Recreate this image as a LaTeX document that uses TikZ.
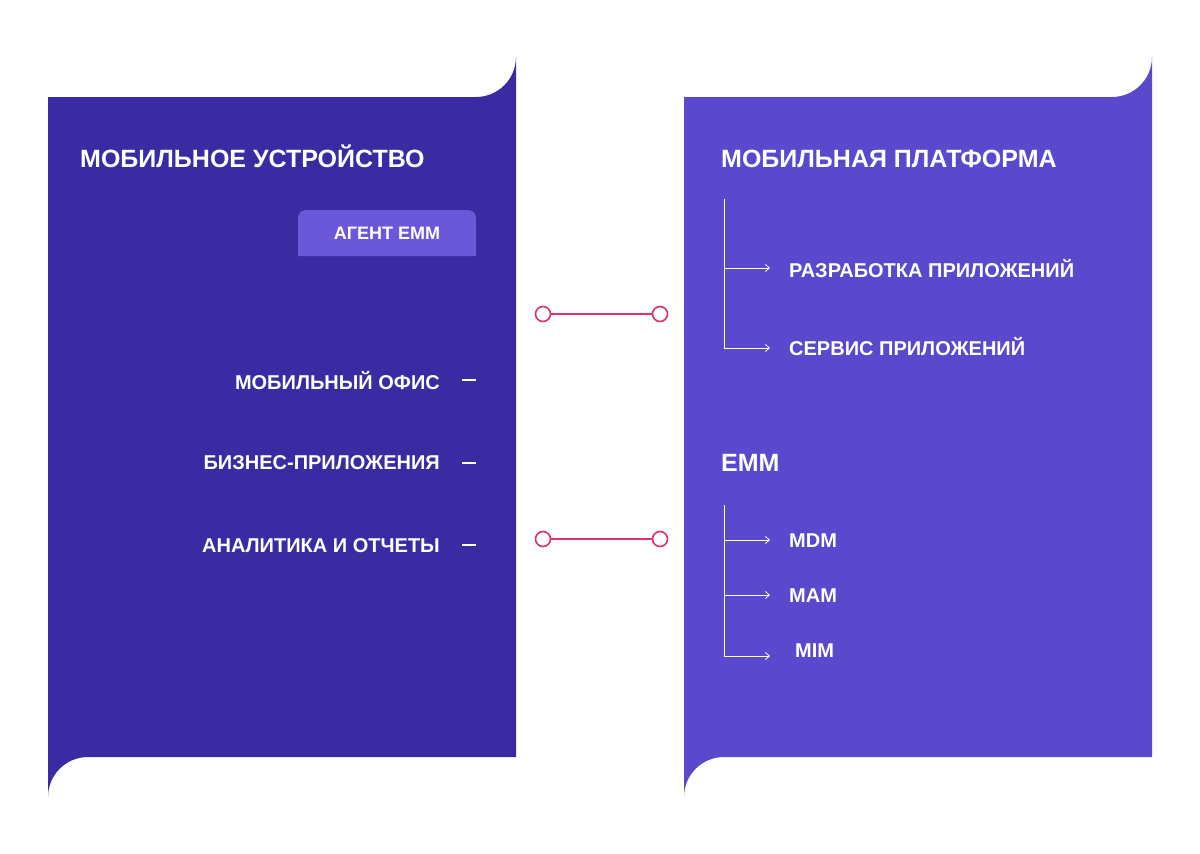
\documentclass[tikz,border=0pt]{standalone}
\usepackage{fontspec}
\setmainfont{Liberation Sans}
\usetikzlibrary{arrows.meta}
\definecolor{leftc}{HTML}{3A2BA3}
\definecolor{rightc}{HTML}{5B49CD}
\definecolor{agentc}{HTML}{6B58D9}
\definecolor{pinkc}{HTML}{E0306A}
\tikzset{
  title/.style={text=white,font=\fontsize{25}{30}\selectfont\bfseries,anchor=base west,inner sep=0},
  item/.style={text=white,font=\fontsize{20}{24}\selectfont\bfseries,inner sep=0},
  dot/.style={circle,draw=pinkc,line width=1.6pt,fill=white,minimum size=15pt,inner sep=0},
  link/.style={draw=pinkc,line width=1.4pt},
  tree/.style={draw=white,line width=0.8pt},
  arr/.style={tree,-{Straight Barb[length=4pt,width=7pt]}},
  dashmark/.style={draw=white,line width=2.5pt}
}
\begin{document}
\begin{tikzpicture}[x=1pt,y=-1pt]
\useasboundingbox (0,0) rectangle (1200,854);
\fill[white] (0,0) rectangle (1200,854);
% panels
\fill[leftc] (48,97) -- (476,97) arc[start angle=90,end angle=0,radius=40] -- (516,757) -- (88,757) arc[start angle=270,end angle=180,radius=40] -- cycle;
\fill[rightc] (684,97) -- (1112,97) arc[start angle=90,end angle=0,radius=40] -- (1152,757) -- (724,757) arc[start angle=270,end angle=180,radius=40] -- cycle;
% agent box
\fill[agentc, rounded corners=8pt] (298,256) -- (298,210) -- (476,210) [sharp corners] -- (476,256) -- cycle;
\node[item,font=\fontsize{18}{22}\selectfont\bfseries] (agent) at (387,233) {АГЕНТ EMM};
% left texts
\node[title] (lt) at (80,167) {МОБИЛЬНОЕ УСТРОЙСТВО};
\node[item,anchor=east] (i1) at (440,381) {МОБИЛЬНЫЙ ОФИС};
\node[item,anchor=east] (i2) at (440,463) {БИЗНЕС-ПРИЛОЖЕНИЯ};
\node[item,anchor=east] (i3) at (440,546) {АНАЛИТИКА И ОТЧЕТЫ};
\foreach \y in {380,463,545} \draw[dashmark] (462,\y) -- (476,\y);
% connectors
\node[dot] (a1) at (543,314) {};
\node[dot] (b1) at (660,314) {};
\draw[link] (a1) -- (b1);
\node[dot] (a2) at (543,539) {};
\node[dot] (b2) at (660,539) {};
\draw[link] (a2) -- (b2);
% right texts
\node[title] (rt) at (721,167) {МОБИЛЬНАЯ ПЛАТФОРМА};
\node[item,anchor=west] (r1) at (789,269) {РАЗРАБОТКА ПРИЛОЖЕНИЙ};
\node[item,anchor=west] (r2) at (789,347) {СЕРВИС ПРИЛОЖЕНИЙ};
\node[title] (emm) at (721,471) {EMM};
\node[item,anchor=west] (m1) at (789,541) {MDM};
\node[item,anchor=west] (m2) at (789,596) {MAM};
\node[item,anchor=west] (m3) at (795,651) {MIM};
\coordinate (t1) at (724,199);
\coordinate (t2) at (724,505);
\draw[tree] (t1) -- (724,348);
\draw[arr] (724,268) -- (770,268);
\draw[arr] (724,348) -- (770,348);
\draw[tree] (t2) -- (724,656);
\draw[arr] (724,540) -- (770,540);
\draw[arr] (724,595) -- (770,595);
\draw[arr] (724,656) -- (770,656);
\end{tikzpicture}
\end{document}
